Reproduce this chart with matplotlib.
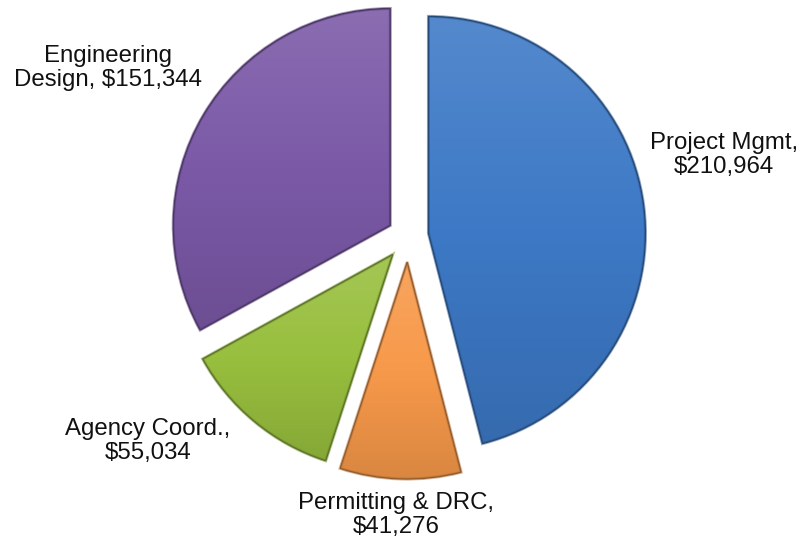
import numpy as np
import matplotlib
matplotlib.use("Agg")
import matplotlib.pyplot as plt
from matplotlib.patches import PathPatch
from matplotlib.colors import LinearSegmentedColormap, to_rgb

categories = ["Project Mgmt", "Permitting & DRC", "Agency Coord.", "Engineering Design"]
values = [210964, 41276, 55034, 151344]
label_texts = ["Project Mgmt,\n$210,964", "Permitting & DRC,\n$41,276",
               "Agency Coord.,\n$55,034", "Engineering\nDesign, $151,344"]
colors = ["#3D79C6", "#F7994A", "#98BF3E", "#7B59A7"]
explode = [0.095, 0.12, 0.11, 0.095]

plt.rcParams['font.family'] = ['Liberation Sans', 'DejaVu Sans']

W, H = 801, 542
fig = plt.figure(figsize=(W / 100, H / 100), dpi=100)
ax = fig.add_axes([0, 0, 1, 1])

cx_px, cy_px, r_px = 408, 236, 217

wedges, _ = ax.pie(values, explode=explode, colors=colors, startangle=90,
                   counterclock=False, radius=1.0, center=(0, 0))

def shade(c, f):
    c = np.array(to_rgb(c))
    if f >= 0:
        return tuple(c + (1 - c) * f)
    return tuple(c * (1 + f))

for w, c in zip(wedges, colors):
    w.set_edgecolor("none")
    path = w.get_path().transformed(w.get_patch_transform())
    bb = path.get_extents()
    cmap = LinearSegmentedColormap.from_list("g", [shade(c, -0.12), c, shade(c, 0.12)])
    grad = np.linspace(0, 1, 256).reshape(-1, 1)
    im = ax.imshow(grad, cmap=cmap, origin="lower", aspect="auto",
                   extent=(bb.x0, bb.x1, bb.y0, bb.y1), zorder=w.get_zorder() + 0.1,
                   interpolation="bilinear")
    im.set_clip_path(w)
    # soft darker rim
    ax.add_patch(PathPatch(path, fill=False, edgecolor=shade(c, -0.3),
                           linewidth=2.2, alpha=0.5, zorder=w.get_zorder() + 0.2))
    ax.add_patch(PathPatch(path, fill=False, edgecolor=shade(c, -0.4),
                           linewidth=0.9, zorder=w.get_zorder() + 0.3))

ax.set_xlim(-cx_px / r_px, (W - cx_px) / r_px)
ax.set_ylim(-(H - cy_px) / r_px, cy_px / r_px)
ax.set_aspect("equal")
ax.set_axis_off()

def px2data(px, py):
    return (px - cx_px) / r_px, (cy_px - py) / r_px

label_pos_px = [(724, 155), (396, 515), (148, 441), (108, 68)]
for txt, (px, py) in zip(label_texts, label_pos_px):
    x, y = px2data(px, py)
    ax.text(x, y, txt, ha="center", va="center", multialignment="center",
            fontsize=17.3, color="#111111", linespacing=1.15)

fig.savefig("out.png", dpi=100, facecolor="white")
